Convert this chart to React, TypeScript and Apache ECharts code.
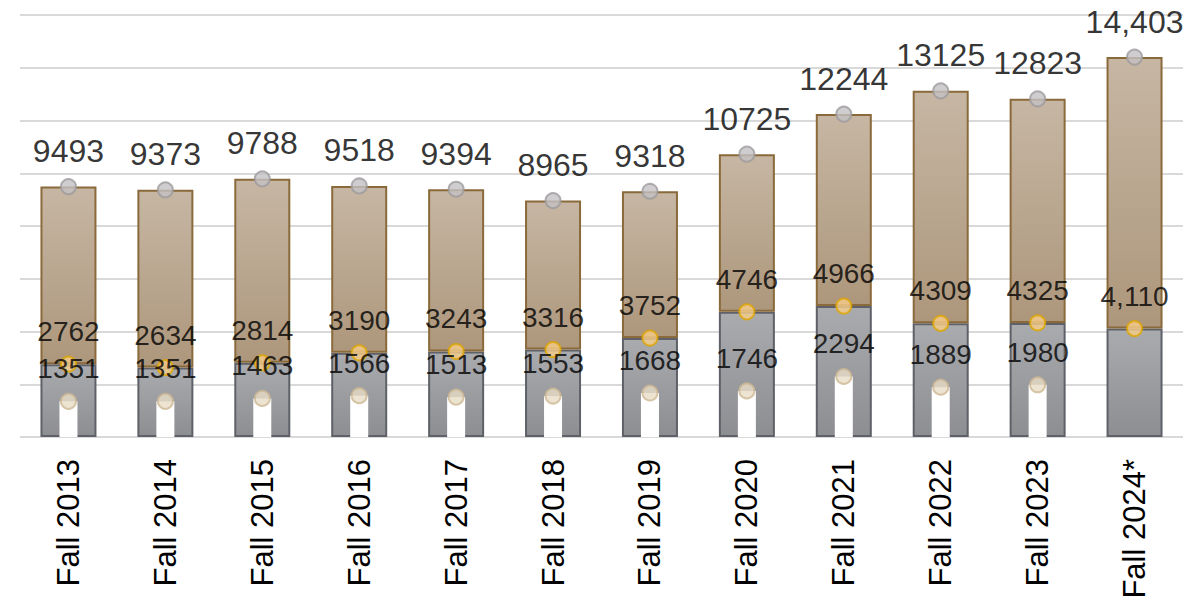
import React, { useEffect, useRef } from "react";
import * as echarts from "echarts";

const categories = ["Fall 2013", "Fall 2014", "Fall 2015", "Fall 2016", "Fall 2017", "Fall 2018", "Fall 2019", "Fall 2020", "Fall 2021", "Fall 2022", "Fall 2023", "Fall 2024*"];
const totals = [9493, 9373, 9788, 9518, 9394, 8965, 9318, 10725, 12244, 13125, 12823, 14403];
const middles = [2762, 2634, 2814, 3190, 3243, 3316, 3752, 4746, 4966, 4309, 4325, 4110];
const lowers: (number | null)[] = [1351, 1351, 1463, 1566, 1513, 1553, 1668, 1746, 2294, 1889, 1980, null];
const commaIndex = 11;

const FONT = "'Liberation Sans', Arial, sans-serif";

function fmt(p: any) {
  const v = Array.isArray(p.value) ? p.value[1] : p.value;
  if (v == null) return "";
  return p.dataIndex === commaIndex ? Number(v).toLocaleString("en-US") : String(v);
}

export default function App() {
  const ref = useRef<HTMLDivElement>(null);
  useEffect(() => {
    if (!ref.current) return;
    const chart = echarts.init(ref.current, null, { renderer: "svg" });
    const rest = totals.map((t, i) => t - middles[i]);
    chart.setOption({
      animation: false,
      grid: { left: 20, right: 18, top: 15, bottom: 170, containLabel: false },
      xAxis: [
        {
          type: "category",
          data: categories,
          axisLine: { show: false },
          axisTick: { show: false },
          axisLabel: {
            rotate: 90,
            margin: 22,
            fontSize: 31,
            color: "#000",
            fontFamily: FONT,
          },
        },
        { type: "category", data: categories, show: false },
      ],
      yAxis: {
        type: "value",
        min: 0,
        max: 16000,
        interval: 2000,
        axisLabel: { show: false },
        axisLine: { show: false },
        axisTick: { show: false },
        splitLine: { lineStyle: { color: "#d9d9d9", width: 2 } },
      },
      series: [
        {
          type: "bar",
          stack: "s",
          barWidth: 56,
          data: middles,
          z: 2,
          itemStyle: {
            color: new echarts.graphic.LinearGradient(0, 0, 0, 1, [
              { offset: 0, color: "#aaabaf" },
              { offset: 1, color: "#8d8e92" },
            ]),
            borderColor: "#5f6168",
            borderWidth: 2,
          },
        },
        {
          type: "bar",
          stack: "s",
          barWidth: 56,
          data: rest,
          z: 3,
          itemStyle: {
            color: new echarts.graphic.LinearGradient(0, 0, 0, 1, [
              { offset: 0, color: "#c6b6a3" },
              { offset: 1, color: "#ad977c" },
            ]),
            borderColor: "#8a6a3b",
            borderWidth: 2,
          },
        },
        {
          type: "bar",
          xAxisIndex: 1,
          barWidth: 18,
          data: lowers,
          z: 4,
          itemStyle: { color: "#ffffff" },
        },
        {
          type: "scatter",
          data: totals,
          symbolSize: 15,
          z: 6,
          itemStyle: { color: "#c3c1c3", borderColor: "#9d9b9d", borderWidth: 2 },
          label: {
            show: true,
            position: "top",
            distance: 11,
            fontSize: 32,
            color: "#000",
            fontFamily: FONT,
            formatter: fmt,
          },
        },
        {
          type: "scatter",
          data: middles,
          symbolSize: 15,
          z: 6,
          itemStyle: { color: "#f6cd88", borderColor: "#deA600", borderWidth: 2 },
          label: {
            show: true,
            position: "top",
            distance: 10,
            fontSize: 28,
            color: "#000",
            fontFamily: FONT,
            formatter: fmt,
          },
        },
        {
          type: "scatter",
          data: lowers,
          symbolSize: 15,
          z: 6,
          itemStyle: { color: "#e8dcc5", borderColor: "#cdb893", borderWidth: 2 },
          label: {
            show: true,
            position: "top",
            distance: 10,
            fontSize: 28,
            color: "#000",
            fontFamily: FONT,
            formatter: fmt,
          },
        },
      ],
    });
    return () => chart.dispose();
  }, []);
  return <div ref={ref} style={{ width: 1201, height: 607, margin: -8 }} />;
}
